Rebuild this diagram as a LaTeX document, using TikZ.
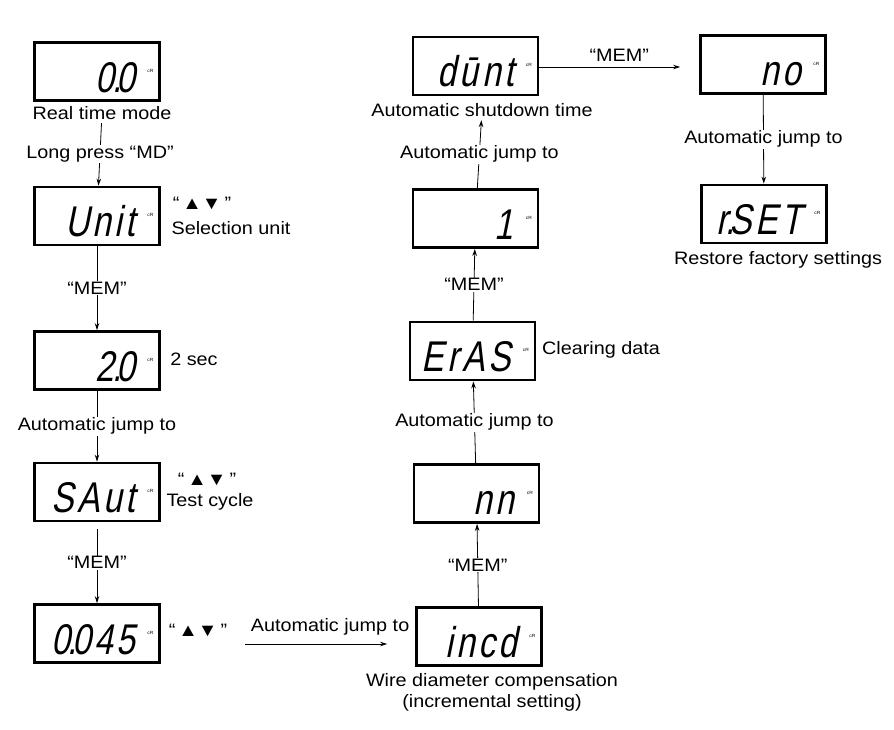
\documentclass[tikz,border=0pt]{standalone}
\usepackage{fontspec}
\usetikzlibrary{arrows.meta}
\setmainfont{Liberation Sans}[FakeStretch=1.1]
\newfontfamily\lcdfont{Liberation Sans}[FakeSlant=0.2,FakeStretch=0.78,LetterSpace=8]
\newcommand\segdot{\kern-2.5pt.\kern-5pt}
\begin{document}
\begin{tikzpicture}[x=1pt,y=-1pt,>={Stealth[length=7pt,width=4.5pt]}, every node/.style={font=\fontsize{18}{21}\selectfont},
  lcd/.style={draw,line width=2.8pt,minimum width=125pt,minimum height=58pt,text width=118pt,align=right,
    inner sep=0pt,text height=41pt,text depth=0pt,font=\lcdfont\fontsize{43}{43}\selectfont,
    execute at end node=\hspace*{21pt},
    label={[font=\fontsize{4.5}{5}\selectfont,label distance=-17pt,yshift=1pt]east:cR}},
  link/.style={->,line width=0.8pt},
  tag/.style={fill=white,inner sep=1pt}]
\useasboundingbox (0,0) rectangle (894,729);
% left column
\node[lcd] (rt) at (97,71.5) {0\segdot0};
\node (rtm) at (102,113) {Real time mode};
\node[lcd] (unit) at (97,216) {Unit};
\node (keys1) at (202,203) {“\,▲▼\,”};
\node (selu) at (231,228) {Selection unit};
\node[lcd] (sec) at (97,360.5) {2\segdot0};
\node (twos) at (194,359) {2 sec};
\node[lcd] (saut) at (97,492) {SAut};
\node (keys2) at (207,479) {“\,▲▼\,”};
\node (tcyc) at (210,502) {Test cycle};
\node[lcd] (val) at (97,633.5) {0\segdot045};
\node (keys3) at (198,630) {“\,▲▼\,”};
\draw[link] (rtm) -- node[tag] {Long press “MD”} (unit);
\draw[link] (unit) -- node[tag] {“MEM”} (sec);
\draw[link] (sec) -- node[tag] {Automatic jump to} (saut);
\draw[link,shorten <=7pt] (saut) -- node[tag] {“MEM”} (val);
% middle column
\node[lcd] (incd) at (479,636.5) {incd};
\node[align=center] (wire) at (492,692) {Wire diameter compensation\\(incremental setting)};
\coordinate (jstart) at (245,644);
\draw[link,shorten >=28pt] (jstart) -- node[above=5pt] {Automatic jump to} (jstart -| incd.west);
\node[lcd] (nn) at (476.5,493.5) {nn};
\node[lcd] (eras) at (472.5,351) {ErAS};
\node (clr) at (601,350) {Clearing data};
\node[lcd] (one) at (475.5,218.5) {1};
\node[lcd] (dunt) at (475.5,66) {dūnt};
\node (shut) at (482,110) {Automatic shutdown time};
\draw[link] (incd) -- node[tag] {“MEM”} (nn);
\draw[link] (nn) -- node[tag] {Automatic jump to} (eras);
\draw[link] (eras) -- node[tag] {“MEM”} (one);
\draw[link] (one) -- node[tag] {Automatic jump to} (shut);
% right column
\node[lcd] (no) at (763,64.5) {no};
\node[lcd] (rset) at (764,214) {r\segdot SET};
\node (fact) at (778,260) {Restore factory settings};
\draw[link,shorten >=19pt] (dunt.east |- 0,67) -- node[above=2pt] {“MEM”} (no.west |- 0,67);
\draw[link] (no) -- node[tag] {Automatic jump to} (rset);
\end{tikzpicture}
\end{document}
